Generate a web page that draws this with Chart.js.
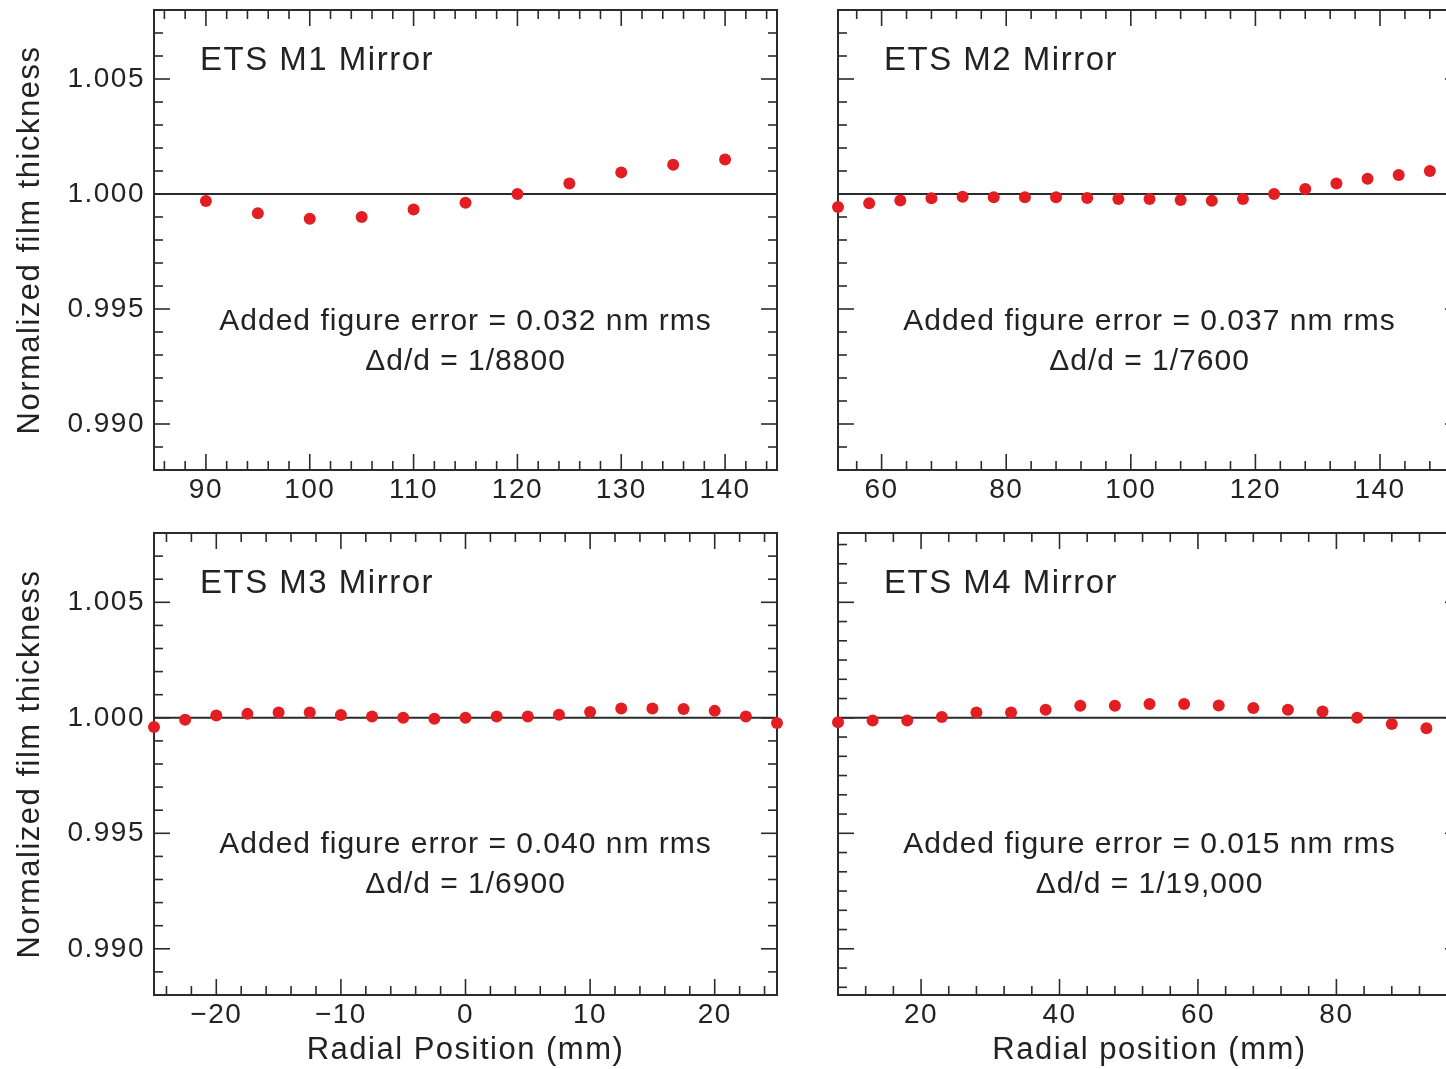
<!DOCTYPE html>
<html>
<head>
<meta charset="utf-8">
<script src="https://cdn.jsdelivr.net/npm/chart.js@4"></script>
<style>
html, body { margin: 0; padding: 0; background: #fff; overflow: hidden; }
#wrap { position: relative; width: 1446px; height: 1069px; overflow: hidden; }
canvas { position: absolute; }
</style>
</head>
<body>
<div id="wrap">
  <canvas id="m1" width="800" height="520" style="left:0px;top:0px"></canvas>
  <canvas id="m2" width="700" height="520" style="left:800px;top:0px"></canvas>
  <canvas id="m3" width="800" height="549" style="left:0px;top:520px"></canvas>
  <canvas id="m4" width="700" height="549" style="left:800px;top:520px"></canvas>
</div>
<script>
// radial position (mm) and normalized film thickness for each mirror
var m1Pos = [90, 95, 100, 105, 110, 115, 120, 125, 130, 135, 140];
var m1Thk = [0.99970, 0.99916, 0.99892, 0.99900, 0.99933, 0.99962, 1.00000, 1.00046, 1.00094, 1.00127, 1.00150];

var m2Pos = [53, 58, 63, 68, 73, 78, 83, 88, 93, 98, 103, 108, 113, 118, 123, 128, 133, 138, 143, 148];
var m2Thk = [0.99943, 0.99960, 0.99972, 0.99982, 0.99988, 0.99986, 0.99986, 0.99986, 0.99983, 0.99978,
             0.99978, 0.99974, 0.99971, 0.99978, 1.00000, 1.00022, 1.00046, 1.00066, 1.00083, 1.00100];

var m3Pos = [-25, -22.5, -20, -17.5, -15, -12.5, -10, -7.5, -5, -2.5, 0, 2.5, 5, 7.5, 10, 12.5, 15, 17.5, 20, 22.5, 25];
var m3Thk = [0.99960, 0.99992, 1.00010, 1.00017, 1.00023, 1.00023, 1.00012, 1.00006, 1.00000, 0.99996, 1.00000,
             1.00006, 1.00006, 1.00013, 1.00025, 1.00040, 1.00040, 1.00038, 1.00030, 1.00006, 0.99977];

var m4Pos = [8, 13, 18, 23, 28, 33, 38, 43, 48, 53, 58, 63, 68, 73, 78, 83, 88, 93];
var m4Thk = [0.99981, 0.99988, 0.99988, 1.00003, 1.00023, 1.00023, 1.00035, 1.00052, 1.00052, 1.00060,
             1.00060, 1.00053, 1.00042, 1.00035, 1.00027, 1.00000, 0.99973, 0.99955];

// tick labels
var yTickLabels = ['0.990', '0.995', '1.000', '1.005'];
var m1XTicks = ['90', '100', '110', '120', '130', '140'];
var m2XTicks = ['60', '80', '100', '120', '140'];
var m3XTicks = ['\u221220', '\u221210', '0', '10', '20'];
var m4XTicks = ['20', '40', '60', '80'];

var titles = ['ETS M1 Mirror', 'ETS M2 Mirror', 'ETS M3 Mirror', 'ETS M4 Mirror'];
var errLines = ['Added figure error = 0.032 nm rms', 'Added figure error = 0.037 nm rms',
                'Added figure error = 0.040 nm rms', 'Added figure error = 0.015 nm rms'];
var ratioLines = ['\u0394d/d = 1/8800', '\u0394d/d = 1/7600', '\u0394d/d = 1/6900', '\u0394d/d = 1/19,000'];

var refLevel = 1.0;
var FONT = "'Liberation Sans', Arial, Helvetica, sans-serif";
var INK = '#222';
var DOT = 'rgb(226, 30, 35)';

Chart.defaults.font.family = FONT;
Chart.defaults.color = INK;

function num(s) { return parseFloat(s.replace('\u2212', '-')); }

function stepTicks(min, max, step, anchor) {
  var out = [];
  var k = Math.ceil((min - anchor) / step - 1e-6);
  for (; anchor + k * step <= max + 1e-9; k++) out.push({ value: anchor + k * step });
  return out;
}

function isMajor(v, labels) {
  for (var i = 0; i < labels.length; i++) {
    if (Math.abs(num(labels[i]) - v) < 1e-7) return labels[i];
  }
  return '';
}

function line(ctx, x1, y1, x2, y2) {
  ctx.beginPath(); ctx.moveTo(x1, y1); ctx.lineTo(x2, y2); ctx.stroke();
}

// frame with inward ticks on all sides, level line and the panel texts
var framePlugin = {
  id: 'frame',
  beforeDraw: function (chart) {
    chart.ctx.letterSpacing = '1.5px';
  },
  beforeDatasetsDraw: function (chart, args, opts) {
    var ctx = chart.ctx, a = chart.chartArea;
    var xs = chart.scales.x, ys = chart.scales.y;
    ctx.save();
    ctx.strokeStyle = '#2b2b2b';

    ctx.lineWidth = 2;
    var y1 = ys.getPixelForValue(refLevel);
    line(ctx, a.left, y1, a.right, y1);

    ctx.lineWidth = 1.6;
    xs.ticks.forEach(function (t) {
      var px = xs.getPixelForValue(t.value);
      var len = isMajor(t.value, opts.xLabels) ? 16 : 9;
      line(ctx, px, a.bottom, px, a.bottom - len);
      line(ctx, px, a.top, px, a.top + len);
    });
    ys.ticks.forEach(function (t) {
      var py = ys.getPixelForValue(t.value);
      var len = isMajor(t.value, yTickLabels) ? 16 : 9;
      line(ctx, a.left, py, a.left + len, py);
      line(ctx, a.right, py, a.right - len, py);
    });

    ctx.lineWidth = 2;
    ctx.strokeRect(a.left, a.top, a.right - a.left, a.bottom - a.top);

    ctx.fillStyle = INK;
    ctx.textBaseline = 'middle';
    ctx.textAlign = 'left';
    ctx.letterSpacing = '1.5px';
    ctx.font = '33px ' + FONT;
    ctx.fillText(opts.title, a.left + 46, a.top + 51);

    ctx.textAlign = 'center';
    ctx.letterSpacing = '1px';
    ctx.font = '30px ' + FONT;
    var cx = (a.left + a.right) / 2;
    ctx.fillText(opts.err, cx, a.top + 312);
    ctx.fillText(opts.ratio, cx, a.top + 352);
    ctx.restore();
  }
};

function makePanel(cfg) {
  new Chart(document.getElementById(cfg.id), {
    type: 'scatter',
    data: {
      datasets: [{
        data: cfg.pos.map(function (x, i) { return { x: x, y: cfg.thk[i] }; }),
        backgroundColor: DOT,
        borderWidth: 0,
        pointRadius: 6,
        pointHoverRadius: 6,
        clip: false
      }]
    },
    options: {
      responsive: false,
      animation: false,
      events: [],
      layout: { padding: cfg.pad },
      plugins: {
        legend: { display: false },
        tooltip: { enabled: false },
        frame: { title: cfg.title, err: cfg.err, ratio: cfg.ratio, xLabels: cfg.xLabels }
      },
      scales: {
        x: {
          type: 'linear',
          position: 'bottom',
          min: cfg.xMin,
          max: cfg.xMax,
          afterBuildTicks: function (s) { s.ticks = stepTicks(cfg.xMin, cfg.xMax, cfg.xStep, 0); },
          afterFit: function (s) { s.height = cfg.xH; s.paddingLeft = 0; s.paddingRight = 0; },
          grid: { display: false, drawTicks: false },
          border: { display: false },
          ticks: {
            autoSkip: false, maxRotation: 0, minRotation: 0, padding: 3,
            font: { size: 28 }, color: INK,
            callback: function (v) { return isMajor(v, cfg.xLabels); }
          },
          title: {
            display: !!cfg.xTitle, text: cfg.xTitle || '', color: INK,
            font: { size: 31 }, padding: { top: 0, bottom: 0 }
          }
        },
        y: {
          type: 'linear',
          position: 'left',
          min: 0.988,
          max: 1.008,
          afterBuildTicks: function (s) { s.ticks = stepTicks(0.988, 1.008, cfg.yStep, refLevel); },
          afterFit: function (s) { s.width = cfg.yW; s.paddingTop = 0; s.paddingBottom = 0; },
          grid: { display: false, drawTicks: false },
          border: { display: false },
          ticks: {
            display: cfg.showY, autoSkip: false, padding: 9,
            font: { size: 28 }, color: INK,
            callback: function (v) { return isMajor(v, yTickLabels); }
          },
          title: {
            display: cfg.showY, text: 'Normalized film thickness', color: INK,
            font: { size: 31 }, padding: { top: 12, bottom: 0 }
          }
        }
      }
    },
    plugins: [framePlugin]
  });
}

makePanel({ id: 'm1', pos: m1Pos, thk: m1Thk, xMin: 85, xMax: 145, xStep: 2, xLabels: m1XTicks,
  yStep: 0.001, showY: true, yW: 154, xH: 50, pad: { left: 0, top: 10, right: 23, bottom: 0 },
  title: titles[0], err: errLines[0], ratio: ratioLines[0] });

makePanel({ id: 'm2', pos: m2Pos, thk: m2Thk, xMin: 53, xMax: 153, xStep: 4, xLabels: m2XTicks,
  yStep: 0.001, showY: false, yW: 38, xH: 50, pad: { left: 0, top: 10, right: 39, bottom: 0 },
  title: titles[1], err: errLines[1], ratio: ratioLines[1] });

makePanel({ id: 'm3', pos: m3Pos, thk: m3Thk, xMin: -25, xMax: 25, xStep: 2, xLabels: m3XTicks,
  yStep: 0.001, showY: true, yW: 154, xH: 74, pad: { left: 0, top: 13, right: 23, bottom: 0 },
  xTitle: 'Radial Position (mm)',
  title: titles[2], err: errLines[2], ratio: ratioLines[2] });

makePanel({ id: 'm4', pos: m4Pos, thk: m4Thk, xMin: 8, xMax: 98, xStep: 4, xLabels: m4XTicks,
  yStep: 0.005 / 6, showY: false, yW: 38, xH: 74, pad: { left: 0, top: 13, right: 39, bottom: 0 },
  xTitle: 'Radial position (mm)',
  title: titles[3], err: errLines[3], ratio: ratioLines[3] });
</script>
</body>
</html>
